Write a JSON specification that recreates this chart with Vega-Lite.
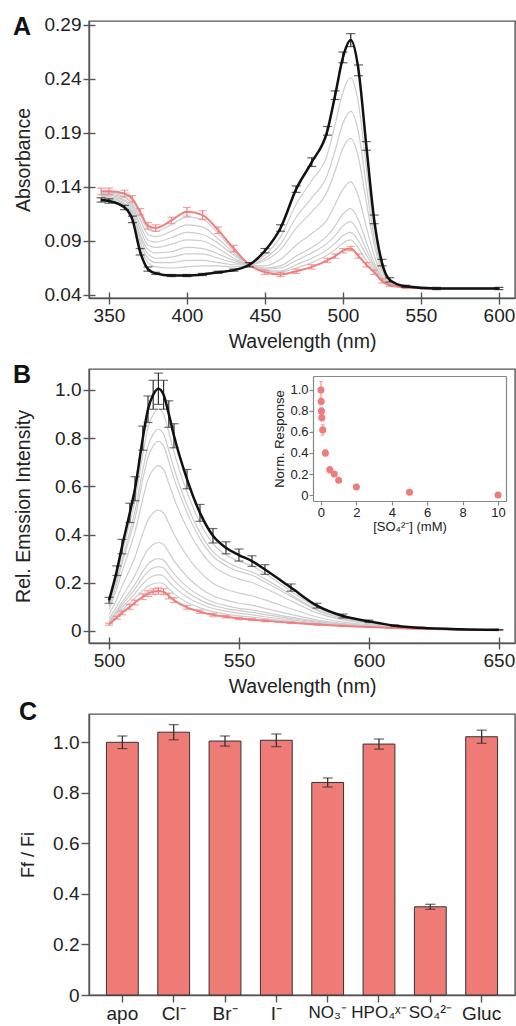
{
"$schema": "https://vega.github.io/schema/vega-lite/v6.json",
"background": "white",
"padding": {"left": 12, "top": 14, "right": 2, "bottom": 2},
"config": {
 "font": "Liberation Sans",
 "view": {"stroke": "#555", "strokeWidth": 1.4},
 "axis": {"grid": false, "domainColor": "#555", "domainWidth": 1.4, "tickColor": "#555", "tickWidth": 1.4, "labelColor": "#222", "titleColor": "#222", "labelFont": "Liberation Sans", "titleFont": "Liberation Sans", "labelFontSize": 19, "titleFontSize": 19.5, "titleFontWeight": "normal", "tickSize": 6, "labelPadding": 2}
},
"datasets": {
 "aBlack": [
  {"w":345,"v":0.128,"e":0.002},{"w":350,"v":0.127,"e":0.002},{"w":360,"v":0.121,"e":0.002},{"w":365,"v":0.110,"e":0.003},{"w":370,"v":0.080,"e":0.003},{"w":375,"v":0.064,"e":0.002},{"w":380,"v":0.060,"e":0.001},{"w":390,"v":0.058,"e":0.001},{"w":400,"v":0.058,"e":0.001},{"w":410,"v":0.059,"e":0.001},{"w":420,"v":0.061,"e":0.001},{"w":430,"v":0.063,"e":0.001},{"w":440,"v":0.068,"e":0.002},{"w":450,"v":0.081,"e":0.002},{"w":460,"v":0.102,"e":0.003},{"w":470,"v":0.138,"e":0.003},{"w":480,"v":0.163,"e":0.004},{"w":490,"v":0.192,"e":0.004},{"w":495,"v":0.225,"e":0.004},{"w":500,"v":0.260,"e":0.005},{"w":505,"v":0.276,"e":0.006},{"w":510,"v":0.248,"e":0.005},{"w":515,"v":0.178,"e":0.004},{"w":520,"v":0.110,"e":0.004},{"w":525,"v":0.070,"e":0.003},{"w":530,"v":0.054,"e":0.002},{"w":540,"v":0.048,"e":0.001},{"w":560,"v":0.046,"e":0.001},{"w":600,"v":0.046,"e":0.001}
 ],
 "aRed": [
  {"w":345,"v":0.136,"e":0.003},{"w":350,"v":0.136,"e":0.003},{"w":360,"v":0.134,"e":0.003},{"w":365,"v":0.129,"e":0.003},{"w":370,"v":0.117,"e":0.003},{"w":375,"v":0.104,"e":0.003},{"w":380,"v":0.102,"e":0.003},{"w":390,"v":0.109,"e":0.003},{"w":400,"v":0.117,"e":0.004},{"w":410,"v":0.114,"e":0.004},{"w":420,"v":0.100,"e":0.003},{"w":430,"v":0.083,"e":0.003},{"w":440,"v":0.068,"e":0.002},{"w":450,"v":0.061,"e":0.002},{"w":460,"v":0.059,"e":0.002},{"w":470,"v":0.062,"e":0.002},{"w":480,"v":0.066,"e":0.002},{"w":490,"v":0.072,"e":0.002},{"w":495,"v":0.076,"e":0.002},{"w":500,"v":0.081,"e":0.002},{"w":505,"v":0.083,"e":0.002},{"w":510,"v":0.076,"e":0.002},{"w":515,"v":0.068,"e":0.002},{"w":520,"v":0.061,"e":0.002},{"w":525,"v":0.053,"e":0.002},{"w":530,"v":0.049,"e":0.001},{"w":540,"v":0.047,"e":0.001},{"w":560,"v":0.046,"e":0.001},{"w":600,"v":0.046,"e":0.001}
 ],
 "aGray": [
  {"s":1,"w":345,"v":0.135},{"s":2,"w":345,"v":0.134},{"s":3,"w":345,"v":0.133},{"s":4,"w":345,"v":0.132},{"s":5,"w":345,"v":0.132},{"s":6,"w":345,"v":0.131},{"s":7,"w":345,"v":0.130},{"s":8,"w":345,"v":0.129},
  {"s":1,"w":350,"v":0.135},{"s":2,"w":350,"v":0.134},{"s":3,"w":350,"v":0.133},{"s":4,"w":350,"v":0.132},{"s":5,"w":350,"v":0.131},{"s":6,"w":350,"v":0.130},{"s":7,"w":350,"v":0.129},{"s":8,"w":350,"v":0.128},
  {"s":1,"w":360,"v":0.133},{"s":2,"w":360,"v":0.131},{"s":3,"w":360,"v":0.130},{"s":4,"w":360,"v":0.128},{"s":5,"w":360,"v":0.127},{"s":6,"w":360,"v":0.125},{"s":7,"w":360,"v":0.124},{"s":8,"w":360,"v":0.123},
  {"s":1,"w":365,"v":0.128},{"s":2,"w":365,"v":0.125},{"s":3,"w":365,"v":0.123},{"s":4,"w":365,"v":0.121},{"s":5,"w":365,"v":0.118},{"s":6,"w":365,"v":0.116},{"s":7,"w":365,"v":0.115},{"s":8,"w":365,"v":0.113},
  {"s":1,"w":370,"v":0.114},{"s":2,"w":370,"v":0.110},{"s":3,"w":370,"v":0.105},{"s":4,"w":370,"v":0.101},{"s":5,"w":370,"v":0.096},{"s":6,"w":370,"v":0.093},{"s":7,"w":370,"v":0.089},{"s":8,"w":370,"v":0.085},
  {"s":1,"w":375,"v":0.101},{"s":2,"w":375,"v":0.096},{"s":3,"w":375,"v":0.091},{"s":4,"w":375,"v":0.086},{"s":5,"w":375,"v":0.082},{"s":6,"w":375,"v":0.078},{"s":7,"w":375,"v":0.074},{"s":8,"w":375,"v":0.070},
  {"s":1,"w":380,"v":0.099},{"s":2,"w":380,"v":0.094},{"s":3,"w":380,"v":0.089},{"s":4,"w":380,"v":0.084},{"s":5,"w":380,"v":0.079},{"s":6,"w":380,"v":0.074},{"s":7,"w":380,"v":0.070},{"s":8,"w":380,"v":0.066},
  {"s":1,"w":390,"v":0.105},{"s":2,"w":390,"v":0.099},{"s":3,"w":390,"v":0.093},{"s":4,"w":390,"v":0.087},{"s":5,"w":390,"v":0.080},{"s":6,"w":390,"v":0.075},{"s":7,"w":390,"v":0.070},{"s":8,"w":390,"v":0.065},
  {"s":1,"w":400,"v":0.112},{"s":2,"w":400,"v":0.105},{"s":3,"w":400,"v":0.098},{"s":4,"w":400,"v":0.091},{"s":5,"w":400,"v":0.084},{"s":6,"w":400,"v":0.078},{"s":7,"w":400,"v":0.072},{"s":8,"w":400,"v":0.066},
  {"s":1,"w":410,"v":0.110},{"s":2,"w":410,"v":0.103},{"s":3,"w":410,"v":0.096},{"s":4,"w":410,"v":0.090},{"s":5,"w":410,"v":0.083},{"s":6,"w":410,"v":0.078},{"s":7,"w":410,"v":0.072},{"s":8,"w":410,"v":0.067},
  {"s":1,"w":420,"v":0.097},{"s":2,"w":420,"v":0.092},{"s":3,"w":420,"v":0.088},{"s":4,"w":420,"v":0.083},{"s":5,"w":420,"v":0.078},{"s":6,"w":420,"v":0.074},{"s":7,"w":420,"v":0.070},{"s":8,"w":420,"v":0.067},
  {"s":1,"w":430,"v":0.081},{"s":2,"w":430,"v":0.079},{"s":3,"w":430,"v":0.077},{"s":4,"w":430,"v":0.074},{"s":5,"w":430,"v":0.072},{"s":6,"w":430,"v":0.070},{"s":7,"w":430,"v":0.068},{"s":8,"w":430,"v":0.066},
  {"s":1,"w":440,"v":0.068},{"s":2,"w":440,"v":0.068},{"s":3,"w":440,"v":0.068},{"s":4,"w":440,"v":0.068},{"s":5,"w":440,"v":0.068},{"s":6,"w":440,"v":0.068},{"s":7,"w":440,"v":0.068},{"s":8,"w":440,"v":0.068},
  {"s":1,"w":450,"v":0.062},{"s":2,"w":450,"v":0.063},{"s":3,"w":450,"v":0.064},{"s":4,"w":450,"v":0.065},{"s":5,"w":450,"v":0.067},{"s":6,"w":450,"v":0.072},{"s":7,"w":450,"v":0.074},{"s":8,"w":450,"v":0.077},
  {"s":1,"w":460,"v":0.061},{"s":2,"w":460,"v":0.062},{"s":3,"w":460,"v":0.065},{"s":4,"w":460,"v":0.067},{"s":5,"w":460,"v":0.073},{"s":6,"w":460,"v":0.082},{"s":7,"w":460,"v":0.087},{"s":8,"w":460,"v":0.094},
  {"s":1,"w":470,"v":0.065},{"s":2,"w":470,"v":0.068},{"s":3,"w":470,"v":0.072},{"s":4,"w":470,"v":0.076},{"s":5,"w":470,"v":0.086},{"s":6,"w":470,"v":0.102},{"s":7,"w":470,"v":0.112},{"s":8,"w":470,"v":0.124},
  {"s":1,"w":480,"v":0.070},{"s":2,"w":480,"v":0.074},{"s":3,"w":480,"v":0.079},{"s":4,"w":480,"v":0.084},{"s":5,"w":480,"v":0.097},{"s":6,"w":480,"v":0.117},{"s":7,"w":480,"v":0.130},{"s":8,"w":480,"v":0.146},
  {"s":1,"w":490,"v":0.077},{"s":2,"w":490,"v":0.082},{"s":3,"w":490,"v":0.088},{"s":4,"w":490,"v":0.095},{"s":5,"w":490,"v":0.110},{"s":6,"w":490,"v":0.136},{"s":7,"w":490,"v":0.151},{"s":8,"w":490,"v":0.170},
  {"s":1,"w":495,"v":0.082},{"s":2,"w":495,"v":0.088},{"s":3,"w":495,"v":0.095},{"s":4,"w":495,"v":0.104},{"s":5,"w":495,"v":0.124},{"s":6,"w":495,"v":0.155},{"s":7,"w":495,"v":0.174},{"s":8,"w":495,"v":0.198},
  {"s":1,"w":500,"v":0.088},{"s":2,"w":500,"v":0.095},{"s":3,"w":500,"v":0.104},{"s":4,"w":500,"v":0.115},{"s":5,"w":500,"v":0.138},{"s":6,"w":500,"v":0.176},{"s":7,"w":500,"v":0.199},{"s":8,"w":500,"v":0.228},
  {"s":1,"w":505,"v":0.091},{"s":2,"w":505,"v":0.098},{"s":3,"w":505,"v":0.108},{"s":4,"w":505,"v":0.120},{"s":5,"w":505,"v":0.145},{"s":6,"w":505,"v":0.185},{"s":7,"w":505,"v":0.210},{"s":8,"w":505,"v":0.241},
  {"s":1,"w":510,"v":0.083},{"s":2,"w":510,"v":0.090},{"s":3,"w":510,"v":0.098},{"s":4,"w":510,"v":0.109},{"s":5,"w":510,"v":0.131},{"s":6,"w":510,"v":0.167},{"s":7,"w":510,"v":0.190},{"s":8,"w":510,"v":0.217},
  {"s":1,"w":515,"v":0.072},{"s":2,"w":515,"v":0.077},{"s":3,"w":515,"v":0.082},{"s":4,"w":515,"v":0.089},{"s":5,"w":515,"v":0.103},{"s":6,"w":515,"v":0.126},{"s":7,"w":515,"v":0.141},{"s":8,"w":515,"v":0.158},
  {"s":1,"w":520,"v":0.063},{"s":2,"w":520,"v":0.065},{"s":3,"w":520,"v":0.067},{"s":4,"w":520,"v":0.070},{"s":5,"w":520,"v":0.077},{"s":6,"w":520,"v":0.087},{"s":7,"w":520,"v":0.093},{"s":8,"w":520,"v":0.101},
  {"s":1,"w":525,"v":0.054},{"s":2,"w":525,"v":0.054},{"s":3,"w":525,"v":0.055},{"s":4,"w":525,"v":0.056},{"s":5,"w":525,"v":0.058},{"s":6,"w":525,"v":0.062},{"s":7,"w":525,"v":0.064},{"s":8,"w":525,"v":0.067},
  {"s":1,"w":530,"v":0.049},{"s":2,"w":530,"v":0.049},{"s":3,"w":530,"v":0.050},{"s":4,"w":530,"v":0.050},{"s":5,"w":530,"v":0.051},{"s":6,"w":530,"v":0.052},{"s":7,"w":530,"v":0.052},{"s":8,"w":530,"v":0.053},
  {"s":1,"w":540,"v":0.047},{"s":2,"w":540,"v":0.047},{"s":3,"w":540,"v":0.047},{"s":4,"w":540,"v":0.047},{"s":5,"w":540,"v":0.047},{"s":6,"w":540,"v":0.048},{"s":7,"w":540,"v":0.048},{"s":8,"w":540,"v":0.048},
  {"s":1,"w":560,"v":0.046},{"s":2,"w":560,"v":0.046},{"s":3,"w":560,"v":0.046},{"s":4,"w":560,"v":0.046},{"s":5,"w":560,"v":0.046},{"s":6,"w":560,"v":0.046},{"s":7,"w":560,"v":0.046},{"s":8,"w":560,"v":0.046},
  {"s":1,"w":600,"v":0.046},{"s":2,"w":600,"v":0.046},{"s":3,"w":600,"v":0.046},{"s":4,"w":600,"v":0.046},{"s":5,"w":600,"v":0.046},{"s":6,"w":600,"v":0.046},{"s":7,"w":600,"v":0.046},{"s":8,"w":600,"v":0.046}
 ],
 "bBlack": [
  {"w":500,"v":0.127,"e":0.012},{"w":503,"v":0.25,"e":0.02},{"w":505,"v":0.35,"e":0.03},{"w":508,"v":0.49,"e":0.04},{"w":510,"v":0.59,"e":0.05},{"w":513,"v":0.80,"e":0.05},{"w":515,"v":0.92,"e":0.055},{"w":517,"v":0.98,"e":0.06},{"w":519,"v":1.005,"e":0.065},{"w":521,"v":0.98,"e":0.06},{"w":523,"v":0.90,"e":0.055},{"w":525,"v":0.81,"e":0.05},{"w":530,"v":0.63,"e":0.04},{"w":535,"v":0.49,"e":0.035},{"w":540,"v":0.395,"e":0.03},{"w":545,"v":0.345,"e":0.025},{"w":550,"v":0.315,"e":0.025},{"w":555,"v":0.29,"e":0.022},{"w":560,"v":0.255,"e":0.02},{"w":570,"v":0.18,"e":0.015},{"w":580,"v":0.105,"e":0.01},{"w":590,"v":0.062,"e":0.008},{"w":600,"v":0.040,"e":0.005},{"w":610,"v":0.022,"e":0.003},{"w":620,"v":0.013,"e":0.002},{"w":635,"v":0.007,"e":0.001},{"w":650,"v":0.005,"e":0.001}
 ],
 "bRed": [
  {"w":500,"v":0.028,"e":0.004},{"w":503,"v":0.055,"e":0.006},{"w":505,"v":0.075,"e":0.008},{"w":508,"v":0.100,"e":0.01},{"w":510,"v":0.118,"e":0.01},{"w":513,"v":0.142,"e":0.012},{"w":515,"v":0.155,"e":0.012},{"w":517,"v":0.163,"e":0.012},{"w":519,"v":0.166,"e":0.013},{"w":521,"v":0.163,"e":0.012},{"w":523,"v":0.145,"e":0.012},{"w":525,"v":0.128,"e":0.01},{"w":530,"v":0.098,"e":0.008},{"w":535,"v":0.080,"e":0.007},{"w":540,"v":0.067,"e":0.006},{"w":545,"v":0.059,"e":0.005},{"w":550,"v":0.052,"e":0.005},{"w":555,"v":0.047,"e":0.004},{"w":560,"v":0.042,"e":0.004},{"w":570,"v":0.034,"e":0.003},{"w":580,"v":0.027,"e":0.003},{"w":590,"v":0.021,"e":0.002},{"w":600,"v":0.016,"e":0.002},{"w":610,"v":0.012,"e":0.001},{"w":620,"v":0.009,"e":0.001},{"w":635,"v":0.005,"e":0.001},{"w":650,"v":0.003,"e":0.001}
 ],
 "bGray": [
  {"s":1,"w":500,"v":0.032},{"s":2,"w":500,"v":0.036},{"s":3,"w":500,"v":0.040},{"s":4,"w":500,"v":0.044},{"s":5,"w":500,"v":0.052},{"s":6,"w":500,"v":0.068},{"s":7,"w":500,"v":0.089},{"s":8,"w":500,"v":0.101},{"s":9,"w":500,"v":0.107},{"s":10,"w":500,"v":0.117},
  {"s":1,"w":503,"v":0.063},{"s":2,"w":503,"v":0.071},{"s":3,"w":503,"v":0.078},{"s":4,"w":503,"v":0.086},{"s":5,"w":503,"v":0.102},{"s":6,"w":503,"v":0.133},{"s":7,"w":503,"v":0.176},{"s":8,"w":503,"v":0.199},{"s":9,"w":503,"v":0.211},{"s":10,"w":503,"v":0.231},
  {"s":1,"w":505,"v":0.086},{"s":2,"w":505,"v":0.097},{"s":3,"w":505,"v":0.108},{"s":4,"w":505,"v":0.119},{"s":5,"w":505,"v":0.141},{"s":6,"w":505,"v":0.185},{"s":7,"w":505,"v":0.246},{"s":8,"w":505,"v":0.279},{"s":9,"w":505,"v":0.295},{"s":10,"w":505,"v":0.323},
  {"s":1,"w":508,"v":0.116},{"s":2,"w":508,"v":0.131},{"s":3,"w":508,"v":0.147},{"s":4,"w":508,"v":0.162},{"s":5,"w":508,"v":0.194},{"s":6,"w":508,"v":0.256},{"s":7,"w":508,"v":0.342},{"s":8,"w":508,"v":0.389},{"s":9,"w":508,"v":0.412},{"s":10,"w":508,"v":0.451},
  {"s":1,"w":510,"v":0.137},{"s":2,"w":510,"v":0.156},{"s":3,"w":510,"v":0.175},{"s":4,"w":510,"v":0.194},{"s":5,"w":510,"v":0.231},{"s":6,"w":510,"v":0.307},{"s":7,"w":510,"v":0.411},{"s":8,"w":510,"v":0.467},{"s":9,"w":510,"v":0.496},{"s":10,"w":510,"v":0.543},
  {"s":1,"w":513,"v":0.168},{"s":2,"w":513,"v":0.195},{"s":3,"w":513,"v":0.221},{"s":4,"w":513,"v":0.247},{"s":5,"w":513,"v":0.300},{"s":6,"w":513,"v":0.405},{"s":7,"w":513,"v":0.548},{"s":8,"w":513,"v":0.629},{"s":9,"w":513,"v":0.668},{"s":10,"w":513,"v":0.734},
  {"s":1,"w":515,"v":0.186},{"s":2,"w":515,"v":0.216},{"s":3,"w":515,"v":0.247},{"s":4,"w":515,"v":0.277},{"s":5,"w":515,"v":0.339},{"s":6,"w":515,"v":0.461},{"s":7,"w":515,"v":0.629},{"s":8,"w":515,"v":0.721},{"s":9,"w":515,"v":0.767},{"s":10,"w":515,"v":0.844},
  {"s":1,"w":517,"v":0.196},{"s":2,"w":517,"v":0.228},{"s":3,"w":517,"v":0.261},{"s":4,"w":517,"v":0.294},{"s":5,"w":517,"v":0.359},{"s":6,"w":517,"v":0.490},{"s":7,"w":517,"v":0.670},{"s":8,"w":517,"v":0.768},{"s":9,"w":517,"v":0.817},{"s":10,"w":517,"v":0.898},
  {"s":1,"w":519,"v":0.200},{"s":2,"w":519,"v":0.233},{"s":3,"w":519,"v":0.267},{"s":4,"w":519,"v":0.300},{"s":5,"w":519,"v":0.367},{"s":6,"w":519,"v":0.502},{"s":7,"w":519,"v":0.686},{"s":8,"w":519,"v":0.787},{"s":9,"w":519,"v":0.837},{"s":10,"w":519,"v":0.921},
  {"s":1,"w":521,"v":0.196},{"s":2,"w":521,"v":0.228},{"s":3,"w":521,"v":0.261},{"s":4,"w":521,"v":0.294},{"s":5,"w":521,"v":0.359},{"s":6,"w":521,"v":0.490},{"s":7,"w":521,"v":0.670},{"s":8,"w":521,"v":0.768},{"s":9,"w":521,"v":0.817},{"s":10,"w":521,"v":0.898},
  {"s":1,"w":523,"v":0.175},{"s":2,"w":523,"v":0.205},{"s":3,"w":523,"v":0.236},{"s":4,"w":523,"v":0.266},{"s":5,"w":523,"v":0.326},{"s":6,"w":523,"v":0.447},{"s":7,"w":523,"v":0.613},{"s":8,"w":523,"v":0.704},{"s":9,"w":523,"v":0.749},{"s":10,"w":523,"v":0.825},
  {"s":1,"w":525,"v":0.155},{"s":2,"w":525,"v":0.183},{"s":3,"w":525,"v":0.210},{"s":4,"w":525,"v":0.237},{"s":5,"w":525,"v":0.292},{"s":6,"w":525,"v":0.401},{"s":7,"w":525,"v":0.551},{"s":8,"w":525,"v":0.633},{"s":9,"w":525,"v":0.674},{"s":10,"w":525,"v":0.742},
  {"s":1,"w":530,"v":0.119},{"s":2,"w":530,"v":0.141},{"s":3,"w":530,"v":0.162},{"s":4,"w":530,"v":0.183},{"s":5,"w":530,"v":0.226},{"s":6,"w":530,"v":0.311},{"s":7,"w":530,"v":0.428},{"s":8,"w":530,"v":0.492},{"s":9,"w":530,"v":0.524},{"s":10,"w":530,"v":0.577},
  {"s":1,"w":535,"v":0.096},{"s":2,"w":535,"v":0.113},{"s":3,"w":535,"v":0.129},{"s":4,"w":535,"v":0.146},{"s":5,"w":535,"v":0.178},{"s":6,"w":535,"v":0.244},{"s":7,"w":535,"v":0.334},{"s":8,"w":535,"v":0.383},{"s":9,"w":535,"v":0.408},{"s":10,"w":535,"v":0.449},
  {"s":1,"w":540,"v":0.080},{"s":2,"w":540,"v":0.093},{"s":3,"w":540,"v":0.106},{"s":4,"w":540,"v":0.120},{"s":5,"w":540,"v":0.146},{"s":6,"w":540,"v":0.198},{"s":7,"w":540,"v":0.270},{"s":8,"w":540,"v":0.310},{"s":9,"w":540,"v":0.329},{"s":10,"w":540,"v":0.362},
  {"s":1,"w":545,"v":0.070},{"s":2,"w":545,"v":0.082},{"s":3,"w":545,"v":0.093},{"s":4,"w":545,"v":0.105},{"s":5,"w":545,"v":0.128},{"s":6,"w":545,"v":0.173},{"s":7,"w":545,"v":0.236},{"s":8,"w":545,"v":0.271},{"s":9,"w":545,"v":0.288},{"s":10,"w":545,"v":0.316},
  {"s":1,"w":550,"v":0.063},{"s":2,"w":550,"v":0.073},{"s":3,"w":550,"v":0.084},{"s":4,"w":550,"v":0.094},{"s":5,"w":550,"v":0.115},{"s":6,"w":550,"v":0.157},{"s":7,"w":550,"v":0.215},{"s":8,"w":550,"v":0.247},{"s":9,"w":550,"v":0.262},{"s":10,"w":550,"v":0.289},
  {"s":1,"w":555,"v":0.057},{"s":2,"w":555,"v":0.067},{"s":3,"w":555,"v":0.077},{"s":4,"w":555,"v":0.087},{"s":5,"w":555,"v":0.107},{"s":6,"w":555,"v":0.146},{"s":7,"w":555,"v":0.201},{"s":8,"w":555,"v":0.231},{"s":9,"w":555,"v":0.245},{"s":10,"w":555,"v":0.270},
  {"s":1,"w":560,"v":0.051},{"s":2,"w":560,"v":0.059},{"s":3,"w":560,"v":0.068},{"s":4,"w":560,"v":0.077},{"s":5,"w":560,"v":0.094},{"s":6,"w":560,"v":0.129},{"s":7,"w":560,"v":0.177},{"s":8,"w":560,"v":0.203},{"s":9,"w":560,"v":0.216},{"s":10,"w":560,"v":0.238},
  {"s":1,"w":570,"v":0.040},{"s":2,"w":570,"v":0.046},{"s":3,"w":570,"v":0.052},{"s":4,"w":570,"v":0.057},{"s":5,"w":570,"v":0.069},{"s":6,"w":570,"v":0.092},{"s":7,"w":570,"v":0.125},{"s":8,"w":570,"v":0.144},{"s":9,"w":570,"v":0.151},{"s":10,"w":570,"v":0.165},
  {"s":1,"w":580,"v":0.030},{"s":2,"w":580,"v":0.033},{"s":3,"w":580,"v":0.036},{"s":4,"w":580,"v":0.040},{"s":5,"w":580,"v":0.046},{"s":6,"w":580,"v":0.058},{"s":7,"w":580,"v":0.075},{"s":8,"w":580,"v":0.085},{"s":9,"w":580,"v":0.089},{"s":10,"w":580,"v":0.097},
  {"s":1,"w":590,"v":0.023},{"s":2,"w":590,"v":0.024},{"s":3,"w":590,"v":0.026},{"s":4,"w":590,"v":0.028},{"s":5,"w":590,"v":0.031},{"s":6,"w":590,"v":0.037},{"s":7,"w":590,"v":0.046},{"s":8,"w":590,"v":0.051},{"s":9,"w":590,"v":0.054},{"s":10,"w":590,"v":0.058},
  {"s":1,"w":600,"v":0.017},{"s":2,"w":600,"v":0.018},{"s":3,"w":600,"v":0.019},{"s":4,"w":600,"v":0.020},{"s":5,"w":600,"v":0.022},{"s":6,"w":600,"v":0.026},{"s":7,"w":600,"v":0.031},{"s":8,"w":600,"v":0.034},{"s":9,"w":600,"v":0.035},{"s":10,"w":600,"v":0.038},
  {"s":1,"w":610,"v":0.012},{"s":2,"w":610,"v":0.013},{"s":3,"w":610,"v":0.013},{"s":4,"w":610,"v":0.014},{"s":5,"w":610,"v":0.014},{"s":6,"w":610,"v":0.016},{"s":7,"w":610,"v":0.018},{"s":8,"w":610,"v":0.019},{"s":9,"w":610,"v":0.020},{"s":10,"w":610,"v":0.021},
  {"s":1,"w":620,"v":0.009},{"s":2,"w":620,"v":0.009},{"s":3,"w":620,"v":0.009},{"s":4,"w":620,"v":0.010},{"s":5,"w":620,"v":0.010},{"s":6,"w":620,"v":0.011},{"s":7,"w":620,"v":0.011},{"s":8,"w":620,"v":0.012},{"s":9,"w":620,"v":0.012},{"s":10,"w":620,"v":0.013},
  {"s":1,"w":635,"v":0.005},{"s":2,"w":635,"v":0.005},{"s":3,"w":635,"v":0.005},{"s":4,"w":635,"v":0.005},{"s":5,"w":635,"v":0.005},{"s":6,"w":635,"v":0.006},{"s":7,"w":635,"v":0.006},{"s":8,"w":635,"v":0.006},{"s":9,"w":635,"v":0.007},{"s":10,"w":635,"v":0.007},
  {"s":1,"w":650,"v":0.003},{"s":2,"w":650,"v":0.003},{"s":3,"w":650,"v":0.003},{"s":4,"w":650,"v":0.003},{"s":5,"w":650,"v":0.003},{"s":6,"w":650,"v":0.004},{"s":7,"w":650,"v":0.004},{"s":8,"w":650,"v":0.004},{"s":9,"w":650,"v":0.005},{"s":10,"w":650,"v":0.005}
 ],
 "inset": [
  {"c":0,"v":1.0,"e":0.08},{"c":0.01,"v":0.89,"e":0.03},{"c":0.025,"v":0.80,"e":0.03},{"c":0.05,"v":0.735,"e":0.03},{"c":0.1,"v":0.62,"e":0.05},{"c":0.25,"v":0.40,"e":0.03},{"c":0.5,"v":0.24,"e":0.03},{"c":0.75,"v":0.20,"e":0.02},{"c":1,"v":0.14,"e":0.02},{"c":2,"v":0.077,"e":0.015},{"c":5,"v":0.027,"e":0.01},{"c":10,"v":0.0,"e":0.01}
 ],
 "cBars": [
  {"ion":"apo","v":1.0,"e":0.025},{"ion":"Cl⁻","v":1.04,"e":0.03},{"ion":"Br⁻","v":1.005,"e":0.02},{"ion":"I⁻","v":1.008,"e":0.025},{"ion":"NO₃⁻","v":0.841,"e":0.018},{"ion":"HPO₄ˣ⁻","v":0.993,"e":0.02},{"ion":"SO₄²⁻","v":0.349,"e":0.01},{"ion":"Gluc","v":1.022,"e":0.026}
 ]
},
"spacing": 71,
"bounds": "flush",
"vconcat": [
 {
  "width": 426, "height": 277,
  "title": {"text": "A", "anchor": "start", "frame": "bounds", "fontSize": 25, "fontWeight": "bold", "color": "#111", "offset": 0, "dy": 24},
  "layer": [
   {"data": {"name": "aGray"}, "mark": {"type": "line", "color": "#cdcdcd", "strokeWidth": 1.2, "interpolate": "monotone"},
    "encoding": {
     "x": {"field": "w", "type": "quantitative", "scale": {"domain": [337.2, 610.3], "nice": false, "zero": false}, "axis": {"orient": "bottom", "values": [350, 400, 450, 500, 550, 600], "title": "Wavelength (nm)", "titlePadding": 7}},
     "y": {"field": "v", "type": "quantitative", "scale": {"domain": [0.0372, 0.2937], "nice": false, "zero": false}, "axis": {"orient": "left", "values": [0.04, 0.09, 0.14, 0.19, 0.24, 0.29], "format": ".2f", "title": "Absorbance", "titleX": -66, "titleBaseline": "middle"}},
     "detail": {"field": "s"}}},
   {"data": {"name": "aRed"}, "mark": {"type": "errorbar", "ticks": true, "size": 8, "thickness": 1.2, "color": "#ef8080"},
    "encoding": {
     "x": {"field": "w", "type": "quantitative", "scale": {"domain": [337.2, 610.3], "nice": false, "zero": false}, "axis": null},
     "y": {"field": "v", "type": "quantitative", "scale": {"domain": [0.0372, 0.2937], "nice": false, "zero": false}, "axis": null},
     "yError": {"field": "e"}}},
   {"data": {"name": "aRed"}, "mark": {"type": "line", "color": "#ef7f7f", "strokeWidth": 2, "interpolate": "monotone"},
    "encoding": {
     "x": {"field": "w", "type": "quantitative", "scale": {"domain": [337.2, 610.3], "nice": false, "zero": false}, "axis": null},
     "y": {"field": "v", "type": "quantitative", "scale": {"domain": [0.0372, 0.2937], "nice": false, "zero": false}, "axis": null}}},
   {"data": {"name": "aBlack"}, "mark": {"type": "errorbar", "ticks": true, "size": 9, "thickness": 1.2, "color": "#222"},
    "encoding": {
     "x": {"field": "w", "type": "quantitative", "scale": {"domain": [337.2, 610.3], "nice": false, "zero": false}, "axis": null},
     "y": {"field": "v", "type": "quantitative", "scale": {"domain": [0.0372, 0.2937], "nice": false, "zero": false}, "axis": null},
     "yError": {"field": "e"}}},
   {"data": {"name": "aBlack"}, "mark": {"type": "line", "color": "#111", "strokeWidth": 2.5, "interpolate": "monotone"},
    "encoding": {
     "x": {"field": "w", "type": "quantitative", "scale": {"domain": [337.2, 610.3], "nice": false, "zero": false}, "axis": {"orient": "bottom", "values": [350, 400, 450, 500, 550, 600], "tickSize": -6, "labels": false, "domain": false, "title": null}},
     "y": {"field": "v", "type": "quantitative", "scale": {"domain": [0.0372, 0.2937], "nice": false, "zero": false}, "axis": {"orient": "left", "values": [0.04, 0.09, 0.14, 0.19, 0.24, 0.29], "tickSize": -6, "labels": false, "domain": false, "title": null}}}}
  ],
  "resolve": {"scale": {"x": "independent", "y": "independent"}}
 },
 {
  "width": 426, "height": 274,
  "title": {"text": "B", "anchor": "start", "frame": "bounds", "fontSize": 25, "fontWeight": "bold", "color": "#111", "offset": 0, "dy": 19},
  "layer": [
   {"data": {"name": "bGray"}, "mark": {"type": "line", "color": "#cdcdcd", "strokeWidth": 1.2, "interpolate": "monotone"},
    "encoding": {
     "x": {"field": "w", "type": "quantitative", "scale": {"domain": [492.3, 656.2], "nice": false, "zero": false}, "axis": {"orient": "bottom", "values": [500, 550, 600, 650], "title": "Wavelength (nm)", "titlePadding": 7}},
     "y": {"field": "v", "type": "quantitative", "scale": {"domain": [-0.05, 1.087], "nice": false, "zero": false}, "axis": {"orient": "left", "values": [0, 0.2, 0.4, 0.6, 0.8, 1.0], "labelExpr": "datum.value == 0 ? '0' : format(datum.value, '.1f')", "title": "Rel. Emssion Intensity", "titleX": -66, "titleBaseline": "middle"}},
     "detail": {"field": "s"}}},
   {"data": {"name": "bRed"}, "mark": {"type": "errorbar", "ticks": true, "size": 8, "thickness": 1.2, "color": "#ef8080"},
    "encoding": {
     "x": {"field": "w", "type": "quantitative", "scale": {"domain": [492.3, 656.2], "nice": false, "zero": false}, "axis": null},
     "y": {"field": "v", "type": "quantitative", "scale": {"domain": [-0.05, 1.087], "nice": false, "zero": false}, "axis": null},
     "yError": {"field": "e"}}},
   {"data": {"name": "bRed"}, "mark": {"type": "line", "color": "#ef7f7f", "strokeWidth": 2, "interpolate": "monotone"},
    "encoding": {
     "x": {"field": "w", "type": "quantitative", "scale": {"domain": [492.3, 656.2], "nice": false, "zero": false}, "axis": null},
     "y": {"field": "v", "type": "quantitative", "scale": {"domain": [-0.05, 1.087], "nice": false, "zero": false}, "axis": null}}},
   {"data": {"name": "bBlack"}, "mark": {"type": "errorbar", "ticks": true, "size": 9, "thickness": 1.2, "color": "#333"},
    "encoding": {
     "x": {"field": "w", "type": "quantitative", "scale": {"domain": [492.3, 656.2], "nice": false, "zero": false}, "axis": null},
     "y": {"field": "v", "type": "quantitative", "scale": {"domain": [-0.05, 1.087], "nice": false, "zero": false}, "axis": null},
     "yError": {"field": "e"}}},
   {"data": {"name": "bBlack"}, "mark": {"type": "line", "color": "#111", "strokeWidth": 2.5, "interpolate": "monotone"},
    "encoding": {
     "x": {"field": "w", "type": "quantitative", "scale": {"domain": [492.3, 656.2], "nice": false, "zero": false}, "axis": {"orient": "bottom", "values": [500, 550, 600, 650], "tickSize": -6, "labels": false, "domain": false, "title": null}},
     "y": {"field": "v", "type": "quantitative", "scale": {"domain": [-0.05, 1.087], "nice": false, "zero": false}, "axis": {"orient": "left", "values": [0, 0.2, 0.4, 0.6, 0.8, 1.0], "tickSize": -6, "labels": false, "domain": false, "title": null}}}},
   {"data": {"name": "inset"}, "mark": {"type": "errorbar", "ticks": true, "size": 4, "thickness": 1, "color": "#ef8080"},
    "encoding": {
     "x": {"field": "c", "type": "quantitative", "scale": {"domain": [-0.45, 10.45], "range": [224, 417], "nice": false, "zero": false}, "axis": {"orient": "top", "offset": -7, "labels": false, "ticks": false, "domain": true, "title": null, "domainColor": "#888", "domainWidth": 1.2}},
     "y": {"field": "v", "type": "quantitative", "scale": {"domain": [-0.057, 1.133], "range": [132, 7], "nice": false, "zero": false}, "axis": {"orient": "right", "offset": -9, "labels": false, "ticks": false, "domain": true, "title": null, "domainColor": "#888", "domainWidth": 1.2}},
     "yError": {"field": "e"}}},
   {"data": {"name": "inset"}, "mark": {"type": "point", "filled": true, "size": 50, "color": "#ef7b7b", "opacity": 1},
    "encoding": {
     "x": {"field": "c", "type": "quantitative", "scale": {"domain": [-0.45, 10.45], "range": [224, 417], "nice": false, "zero": false}, "axis": {"orient": "bottom", "offset": -142, "values": [0, 2, 4, 6, 8, 10], "title": "[SO₄²⁻] (mM)", "labelFontSize": 13, "titleFontSize": 13, "tickSize": 4, "titlePadding": 1, "labelPadding": 1, "domainColor": "#888", "tickColor": "#888", "domainWidth": 1.2, "tickWidth": 1.2}},
     "y": {"field": "v", "type": "quantitative", "scale": {"domain": [-0.057, 1.133], "range": [132, 7], "nice": false, "zero": false}, "axis": {"orient": "left", "offset": -224, "values": [0, 0.2, 0.4, 0.6, 0.8, 1.0], "labelExpr": "datum.value == 0 ? '0' : format(datum.value, '.1f')", "title": "Norm. Response", "labelFontSize": 13, "titleFontSize": 13, "tickSize": 4, "titlePadding": 3, "labelPadding": 1, "domainColor": "#888", "tickColor": "#888", "domainWidth": 1.2, "tickWidth": 1.2}}}}
  ],
  "resolve": {"scale": {"x": "independent", "y": "independent"}}
 },
 {
  "width": 426, "height": 281,
  "title": {"text": "C", "anchor": "start", "frame": "bounds", "fontSize": 25, "fontWeight": "bold", "color": "#111", "offset": 0, "dy": 11},
  "data": {"name": "cBars"},
  "layer": [
   {"mark": {"type": "bar", "color": "#ef7b77", "stroke": "#333", "strokeWidth": 1},
    "encoding": {
     "x": {"field": "ion", "type": "nominal", "sort": null, "scale": {"paddingInner": 0.38, "paddingOuter": 0.34}, "axis": {"title": null, "labelAngle": 0, "tickSize": 7, "labelFontSize": {"condition": {"test": "indexof(['NO₃⁻','HPO₄ˣ⁻','SO₄²⁻'], datum.value) >= 0", "value": 17}, "value": 19}}},
     "y": {"field": "v", "type": "quantitative", "scale": {"domain": [0, 1.112], "nice": false}, "title": "Ff / Fi", "axis": {"values": [0, 0.2, 0.4, 0.6, 0.8, 1.0], "labelExpr": "datum.value == 0 ? '0' : format(datum.value, '.1f')", "titleX": -61, "titleBaseline": "middle", "titleFontSize": 18, "tickSize": 8}}}},
   {"mark": {"type": "errorbar", "ticks": true, "size": 10, "thickness": 1.3, "color": "#333"},
    "encoding": {
     "x": {"field": "ion", "type": "nominal", "sort": null},
     "y": {"field": "v", "type": "quantitative", "title": "Ff / Fi"},
     "yError": {"field": "e"}}}
  ]
 }
]
}
